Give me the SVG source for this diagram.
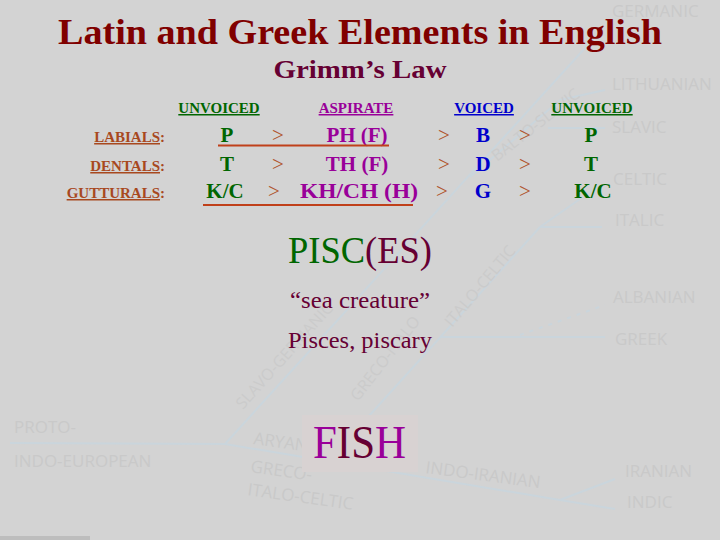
<svg xmlns="http://www.w3.org/2000/svg" width="720" height="540" viewBox="0 0 720 540">
<style>
.bg{font-family:"Open Sans","Liberation Sans",sans-serif;font-size:17px;fill:#c9c9c9}
.bgd{font-family:"Open Sans","Liberation Sans",sans-serif;font-size:16px;fill:#cbcbcb}
.ln{stroke:#cad5dc;stroke-width:2;fill:none}
.serif{font-family:"Liberation Serif","Times New Roman",serif}
.hd{font-size:15px;font-weight:bold;text-decoration:underline;text-anchor:middle}
.lb{font-size:15px;font-weight:bold;fill:#a8481e;text-anchor:end}
.cell{font-size:21px;font-weight:bold;text-anchor:middle}
.gt{font-size:21px;fill:#b0532a;text-anchor:middle}
.g{fill:#006600}.p{fill:#990099}.b{fill:#0000cc}.m{fill:#660033}
</style>
<rect width="720" height="540" fill="#d3d3d3"/>
<rect x="0" y="536" width="90" height="4" fill="#bdbdbd"/>
<g id="background-tree">
<line class="ln" x1="10" y1="443" x2="225" y2="444"/>
<polyline class="ln" points="225,444 560,500 615,509"/>
<line class="ln" x1="560" y1="500" x2="615" y2="479"/>
<line class="ln" x1="225" y1="444" x2="596" y2="36"/>
<line class="ln" x1="320" y1="470" x2="540" y2="227"/>
<line class="ln" x1="540" y1="227" x2="602" y2="227"/>
<line class="ln" x1="540" y1="227" x2="600" y2="185"/>
<line class="ln" x1="440" y1="337" x2="605" y2="337"/>
<line class="ln" x1="520" y1="335" x2="605" y2="305" stroke-dasharray="4 6"/>
<line class="ln" x1="470" y1="177" x2="560" y2="100"/>
<line class="ln" x1="560" y1="100" x2="605" y2="90"/>
<line class="ln" x1="548" y1="128" x2="605" y2="128"/>
<text class="bg" x="612" y="17">GERMANIC</text>
<text class="bg" x="612" y="90">LITHUANIAN</text>
<text class="bg" x="612" y="133">SLAVIC</text>
<text class="bg" x="613" y="185">CELTIC</text>
<text class="bg" x="615" y="226">ITALIC</text>
<text class="bg" x="613" y="303">ALBANIAN</text>
<text class="bg" x="615" y="345">GREEK</text>
<text class="bg" x="625" y="477">IRANIAN</text>
<text class="bg" x="627" y="508">INDIC</text>
<text class="bg" x="14" y="433">PROTO-</text>
<text class="bg" x="14" y="467">INDO-EUROPEAN</text>
<text class="bg" transform="translate(425,473) rotate(7.5)">INDO-IRANIAN</text>
<text class="bg" transform="translate(253,444) rotate(8)">ARYAN</text>
<text class="bg" transform="translate(250,472) rotate(8)">GRECO-</text>
<text class="bg" transform="translate(247,495) rotate(8)">ITALO-CELTIC</text>
<text class="bgd" transform="translate(243,410) rotate(-48)">SLAVO-GERMANIC</text>
<text class="bgd" transform="translate(358,402) rotate(-52)">GRECO-ITALO</text>
<text class="bgd" transform="translate(452,328) rotate(-50)">ITALO-CELTIC</text>
<text class="bgd" transform="translate(497,162) rotate(-38)">BALTO-SLAVIC</text>
</g>
<g id="title">
<text class="serif" x="360" y="44" font-size="36" font-weight="bold" fill="#800000" text-anchor="middle" textLength="604" lengthAdjust="spacingAndGlyphs">Latin and Greek Elements in English</text>
<text class="serif" x="360" y="78" font-size="26" font-weight="bold" fill="#660033" text-anchor="middle" textLength="173" lengthAdjust="spacingAndGlyphs">Grimm’s Law</text>
</g>
<g id="headers" class="serif">
<text class="hd g" x="219" y="113">UNVOICED</text>
<text class="hd p" x="356" y="113">ASPIRATE</text>
<text class="hd b" x="484" y="113">VOICED</text>
<text class="hd g" x="592" y="113">UNVOICED</text>
</g>
<g id="row-labels" class="serif">
<text class="lb" x="165" y="142"><tspan text-decoration="underline">LABIALS</tspan>:</text>
<text class="lb" x="165" y="171"><tspan text-decoration="underline">DENTALS</tspan>:</text>
<text class="lb" x="165" y="198"><tspan text-decoration="underline">GUTTURALS</tspan>:</text>
</g>
<g id="row-labials" class="serif">
<text class="cell g" x="227" y="142">P</text>
<text class="gt" x="278" y="142">&gt;</text>
<text class="cell p" x="357" y="142">PH (F)</text>
<text class="gt" x="444" y="142">&gt;</text>
<text class="cell b" x="483" y="142">B</text>
<text class="gt" x="525" y="142">&gt;</text>
<text class="cell g" x="591" y="142">P</text>
</g>
<g id="row-dentals" class="serif">
<text class="cell g" x="227" y="171">T</text>
<text class="gt" x="278" y="171">&gt;</text>
<text class="cell p" x="357" y="171">TH (F)</text>
<text class="gt" x="444" y="171">&gt;</text>
<text class="cell b" x="483" y="171">D</text>
<text class="gt" x="525" y="171">&gt;</text>
<text class="cell g" x="591" y="171">T</text>
</g>
<g id="row-gutturals" class="serif">
<text class="cell g" x="225" y="198">K/C</text>
<text class="gt" x="274" y="198">&gt;</text>
<text class="cell p" x="359" y="198" textLength="118" lengthAdjust="spacingAndGlyphs">KH/CH (H)</text>
<text class="gt" x="442" y="198">&gt;</text>
<text class="cell b" x="483" y="198">G</text>
<text class="gt" x="525" y="198">&gt;</text>
<text class="cell g" x="593" y="198">K/C</text>
</g>
<g id="connectors">
<line x1="218" y1="145.5" x2="389" y2="145.5" stroke="#c0401a" stroke-width="2"/>
<line x1="203" y1="205" x2="413" y2="205" stroke="#c0401a" stroke-width="2"/>
</g>
<g id="pisces" class="serif">
<text x="288" y="263" font-size="38" textLength="144" lengthAdjust="spacingAndGlyphs"><tspan class="g">PISC</tspan><tspan class="m">(ES)</tspan></text>
<text class="m" x="290" y="308" font-size="23" textLength="140" lengthAdjust="spacingAndGlyphs">“sea creature”</text>
<text class="m" x="288" y="348" font-size="23" textLength="144" lengthAdjust="spacingAndGlyphs">Pisces, piscary</text>
</g>
<g id="fish">
<rect x="302" y="415" width="116" height="57" fill="#d8d2d2"/>
<text class="serif" x="313" y="458" font-size="46" textLength="93" lengthAdjust="spacingAndGlyphs"><tspan class="p">F</tspan><tspan class="m">IS</tspan><tspan class="p">H</tspan></text>
</g>
</svg>
